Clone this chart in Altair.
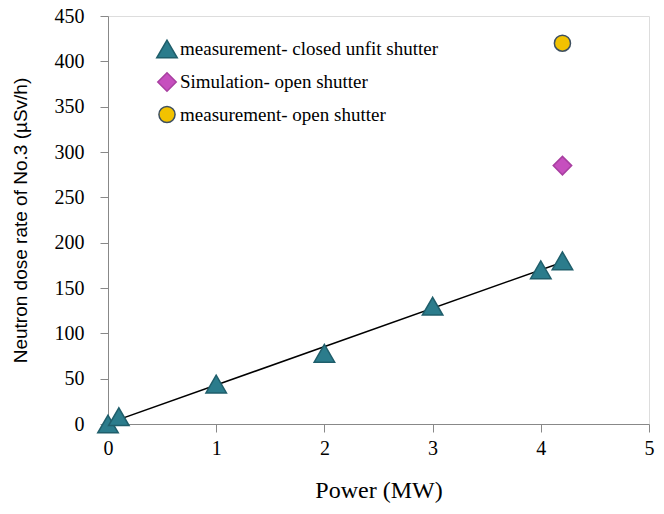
import altair as alt
import pandas as pd

series_names = ["measurement- closed unfit shutter", "Simulation- open shutter", "measurement- open shutter"]

closed_power = [0, 0.1, 1, 2, 3, 4, 4.2]
closed_dose = [0, 8, 44, 78, 130, 170, 180]
sim_power = [4.2]
sim_dose = [285]
open_power = [4.2]
open_dose = [420]

rows = []
for p, d in zip(closed_power, closed_dose):
    rows.append({"power": p, "dose": d, "series": series_names[0]})
for p, d in zip(sim_power, sim_dose):
    rows.append({"power": p, "dose": d, "series": series_names[1]})
for p, d in zip(open_power, open_dose):
    rows.append({"power": p, "dose": d, "series": series_names[2]})
df = pd.DataFrame(rows)
closed_df = pd.DataFrame({"power": closed_power, "dose": closed_dose})

serif = "Liberation Serif"
sans = "Liberation Sans"

x_enc = alt.X("power:Q", scale=alt.Scale(domain=[0, 5], nice=False),
              axis=alt.Axis(title="Power (MW)", values=[0, 1, 2, 3, 4, 5], format="d",
                            grid=False,
                            labelFont=serif, labelFontSize=20, labelColor="#000",
                            titleFont=serif, titleFontSize=24, titleFontWeight="normal",
                            titleColor="#000", titlePadding=20,
                            domainColor="#888", tickColor="#888", tickSize=8,
                            labelPadding=6, labelFlush=False))
y_enc = alt.Y("dose:Q", scale=alt.Scale(domain=[0, 450], nice=False),
              axis=alt.Axis(title="Neutron dose rate of No.3 (µSv/h)",
                            values=list(range(0, 451, 50)), grid=False,
                            labelFont=serif, labelFontSize=20, labelColor="#000",
                            titleFont=sans, titleFontSize=19, titleFontWeight="normal",
                            titleColor="#000", titlePadding=24,
                            domainColor="#888", tickColor="#888", tickSize=8,
                            labelPadding=16))

leg = alt.Legend(title=None, orient="none", legendX=48, legendY=22,
                 labelFont=serif, labelFontSize=19, labelColor="#000", labelLimit=0,
                 rowPadding=8, labelOffset=2)

points = alt.Chart(df).mark_point(filled=True, opacity=1, strokeWidth=1.5).encode(
    x=x_enc,
    y=y_enc,
    shape=alt.Shape("series:N", scale=alt.Scale(domain=series_names,
                                                range=["triangle-up", "diamond", "circle"]),
                    legend=leg),
    color=alt.Color("series:N", scale=alt.Scale(domain=series_names,
                                                range=["#2B7C8C", "#C64FBE", "#F2C200"]),
                    legend=leg),
    stroke=alt.Stroke("series:N", scale=alt.Scale(domain=series_names,
                                                  range=["#1F5E6B", "#A83FA0", "#3D4F60"]),
                      legend=leg),
    size=alt.Size("series:N", scale=alt.Scale(domain=series_names, range=[420, 260, 230]),
                  legend=leg),
)

fit = alt.Chart(closed_df).transform_regression("power", "dose").mark_line(
    color="#000", strokeWidth=1.5).encode(
    x=alt.X("power:Q"), y=alt.Y("dose:Q"))

chart = alt.layer(fit, points).properties(
    width=541, height=408,
    autosize=alt.AutoSizeParams(type="none"),
    padding={"left": 100, "top": 8, "right": 6, "bottom": 79},
).configure_view(stroke=None).configure(background="white")

chart.save("out.html", embed_options={"renderer": "svg", "actions": False})
